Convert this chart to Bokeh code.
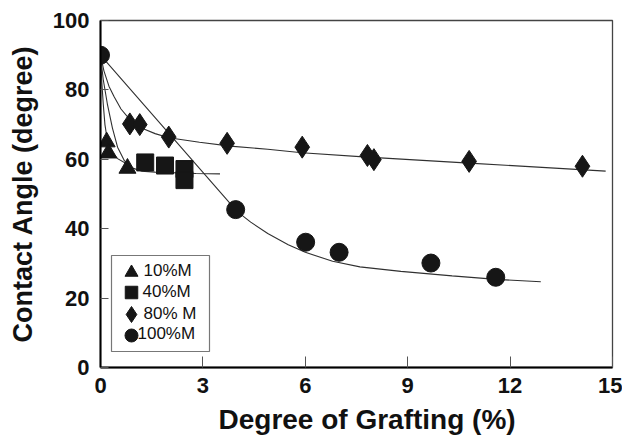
from bokeh.plotting import figure
from bokeh.models import Range1d, FixedTicker, Title
from bokeh.core.properties import value
from bokeh.embed import file_html
from bokeh.resources import INLINE

# Measured contact angles vs. degree of grafting for each monomer concentration
tri_x = [0.18, 0.23, 0.79]
tri_y = [65.0, 61.8, 57.4]

sq_x = [1.31, 1.89, 2.46, 2.46]
sq_y = [59.1, 58.2, 57.2, 54.0]

dia_x = [0.86, 1.15, 2.0, 3.71, 5.91, 7.82, 8.01, 10.8, 14.12]
dia_y = [70.2, 70.0, 66.4, 64.6, 63.5, 61.1, 59.9, 59.4, 58.0]

cir_x = [0.0, 3.96, 6.01, 6.99, 9.68, 11.58]
cir_y = [90.0, 45.5, 36.1, 33.2, 30.1, 26.0]

# Fitted trend lines
fit_tri_x = [0.0, 0.04, 0.08, 0.13, 0.2, 0.3, 0.5, 0.8]
fit_tri_y = [90.0, 82.0, 76.0, 70.0, 65.5, 62.5, 60.2, 58.5]

fit_sq_x = [0.0, 0.08, 0.2, 0.35, 0.5, 0.7, 0.9, 1.2, 1.6, 2.8, 3.5]
fit_sq_y = [90.0, 83.0, 76.0, 69.0, 63.5, 59.6, 57.6, 56.6, 56.3, 55.9, 55.8]

fit_dia_x = [0.0, 0.1, 0.25, 0.4, 0.6, 0.88, 1.2, 1.6, 2.0, 2.9, 3.8, 4.9, 5.9, 7.7, 10.8, 14.8]
fit_dia_y = [90.0, 85.5, 81.0, 78.0, 74.5, 71.2, 69.0, 67.4, 66.2, 64.9, 63.8, 62.9, 61.9, 60.7, 58.9, 56.6]

fit_cir_x = [0.0, 4.0, 4.4, 4.9, 5.5, 6.0, 6.8, 7.6, 8.8, 10.3, 11.6, 12.9]
fit_cir_y = [90.0, 45.0, 41.9, 38.6, 35.4, 33.2, 30.6, 29.0, 27.7, 26.4, 25.4, 24.7]

labels = ["10%M", "40%M", "80% M", "100%M"]
x_ticks = [0, 3, 6, 9, 12, 15]
y_ticks = [0, 20, 40, 60, 80, 100]

FONT = "Liberation Sans"
MARK = "#161616"
LINE = "#303030"
TEXT = "#111111"

W, H = 622, 437
LEFT, RIGHT, TOP, BOTTOM = 100, 10, 20, 70
FRAME_W, FRAME_H = W - LEFT - RIGHT, H - TOP - BOTTOM

p = figure(width=W, height=H, output_backend="svg", toolbar_location=None,
           x_range=Range1d(0, 15), y_range=Range1d(0, 100),
           min_border_left=LEFT, min_border_right=RIGHT,
           min_border_top=TOP, min_border_bottom=BOTTOM)

# pixel-based ranges over the frame, used to lay out the key box
p.extra_x_ranges = {"px": Range1d(0, FRAME_W)}
p.extra_y_ranges = {"py": Range1d(0, FRAME_H)}

p.grid.visible = False
p.background_fill_color = "white"
p.border_fill_color = "white"
p.outline_line_color = "#444444"
p.outline_line_width = 1.3

p.xaxis.ticker = FixedTicker(ticks=x_ticks)
p.yaxis.ticker = FixedTicker(ticks=y_ticks)
p.yaxis.axis_label = "Contact Angle (degree)"

for ax in (p.xaxis, p.yaxis):
    ax.axis_line_color = "black"
    ax.axis_line_width = 2
    ax.major_tick_out = 0
    ax.major_tick_line_color = "#555555"
    ax.major_tick_line_width = 1
    ax.minor_tick_line_color = None
    ax.major_label_text_font = FONT
    ax.major_label_text_font_style = "bold"
    ax.major_label_text_font_size = "22px"
    ax.major_label_text_color = TEXT
    ax.axis_label_text_font = FONT
    ax.axis_label_text_font_style = "bold"
    ax.axis_label_text_font_size = "27px"
    ax.axis_label_text_color = TEXT

p.xaxis.major_tick_in = 11
p.yaxis.major_tick_in = 8
p.xaxis.major_label_standoff = 10
p.yaxis.major_label_standoff = 11
p.yaxis.axis_label_standoff = 12

# x-axis title, stacked under the tick labels
p.add_layout(Title(text="Degree of Grafting (%)", align="left", offset=118,
                   vertical_align="bottom", standoff=0,
                   padding=dict(left=0, right=0, top=6, bottom=0),
                   text_font=FONT, text_font_style="bold",
                   text_font_size="28px", text_color=TEXT), "below")

# trend lines
for fx, fy in ((fit_tri_x, fit_tri_y), (fit_sq_x, fit_sq_y),
               (fit_dia_x, fit_dia_y), (fit_cir_x, fit_cir_y)):
    p.line(fx, fy, line_color=LINE, line_width=1.1)

# data points
p.scatter(tri_x, tri_y, marker="triangle", size=17, fill_color=MARK, line_color=MARK)
p.scatter(sq_x, sq_y, marker="square", size=17, fill_color=MARK, line_color=MARK)
p.scatter(dia_x, dia_y, marker="diamond", size=22, fill_color=MARK, line_color=MARK)
p.scatter(cir_x, cir_y, marker="circle", size=18, fill_color=MARK, line_color=MARK)

# key box (pixel offsets from the frame's lower-left corner)
key_left, key_right, key_bottom, key_top = 11, 109, 16, 112
key_mark_x = 31
key_rows = [95, 75, 53, 32]
key_text_x = [43, 42, 43, 37]
key_text_y = [97.5, 75.7, 54.2, 34]
key_markers = ["triangle", "square", "diamond", "circle"]
key_sizes = [13, 12.5, 16, 13]

p.quad(left=[key_left], right=[key_right], bottom=[key_bottom], top=[key_top],
       fill_color="white", line_color="#777777", line_width=1.2,
       x_range_name="px", y_range_name="py")
for mk, sz, ry in zip(key_markers, key_sizes, key_rows):
    p.scatter([key_mark_x], [ry], marker=mk, size=sz, fill_color=MARK,
              line_color=MARK, x_range_name="px", y_range_name="py")
p.text(x=key_text_x, y=key_text_y, text=labels, text_font=value(FONT),
       text_font_size=value("17px"), text_color=TEXT, text_align="left",
       text_baseline="middle", x_range_name="px", y_range_name="py")

open("out.html", "w").write(file_html(p, INLINE))
